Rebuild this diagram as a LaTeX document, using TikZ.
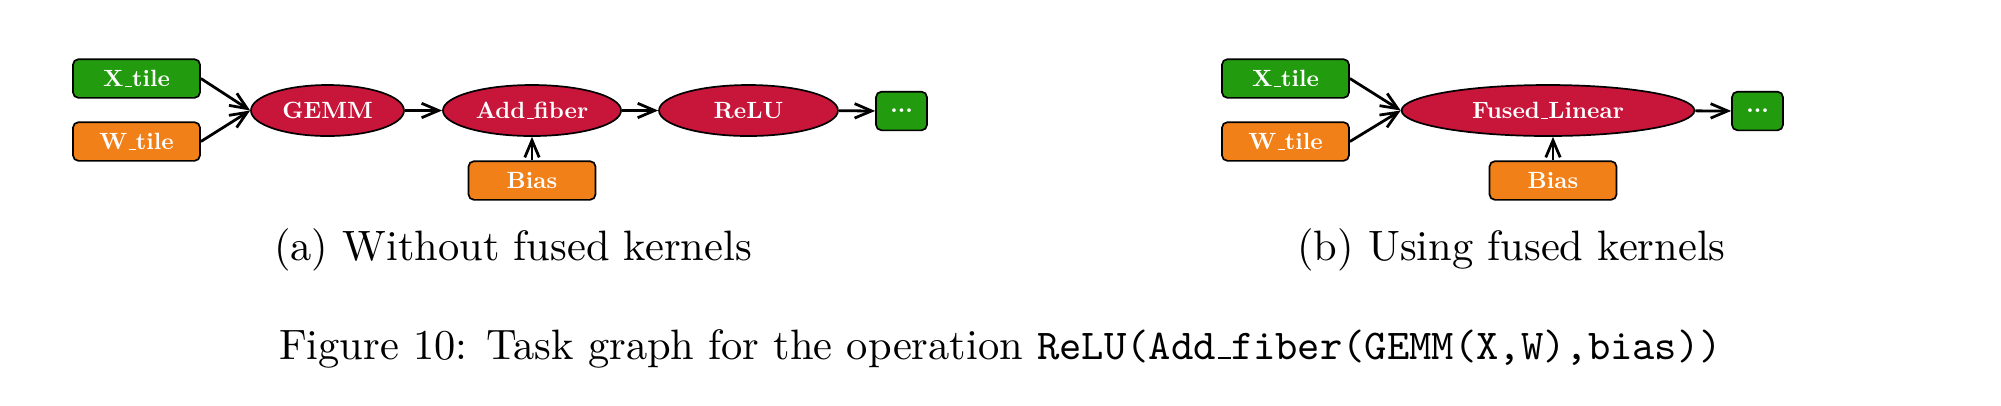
\documentclass[tikz,border=0pt]{standalone}
\usepackage{graphicx}
\usetikzlibrary{arrows.meta,shapes.geometric}
\definecolor{tgreen}{RGB}{35,155,15}
\definecolor{torange}{RGB}{242,128,24}
\definecolor{tred}{RGB}{200,21,58}
\newcommand{\us}{\leavevmode\kern.06em\vbox{\hrule width.3em}}
\newcommand{\nt}[1]{\scalebox{0.553}{\bfseries #1}}
\tikzset{
  nodefont/.style={font=\fontsize{10}{12}\selectfont, text=white},
  tilebox/.style={nodefont, draw=black, rounded corners=1.3pt, minimum width=29.9pt, minimum height=9.1pt, inner sep=0pt},
  greenbox/.style={tilebox, fill=tgreen},
  orangebox/.style={tilebox, fill=torange},
  dotbox/.style={tilebox, fill=tgreen, minimum width=12pt},
  opnode/.style={nodefont, ellipse, draw=black, fill=tred, minimum height=12pt, inner sep=0pt},
  flow/.style={line width=0.65pt, -{Straight Barb[length=4pt,width=3.4pt]}},
  captext/.style={font=\fontsize{10}{12}\selectfont, anchor=base}
}
\begin{document}
\begin{tikzpicture}[x=0.235294pt, y=-0.235294pt]
\useasboundingbox (0,0) rectangle (2001,405);
% (a)
\node[greenbox] (xa) at (136.5,78.5) {\nt{X\us tile}};
\node[orangebox] (wa) at (136.5,141.5) {\nt{W\us tile}};
\node[opnode, minimum width=36pt] (gemm) at (327.5,110.5) {\nt{GEMM}};
\node[opnode, minimum width=41.9pt] (add) at (532,110.5) {\nt{Add\us fiber}};
\node[orangebox] (ba) at (532,180.5) {\nt{Bias}};
\node[opnode, minimum width=42.1pt] (relu) at (748.5,110.5) {\nt{ReLU}};
\node[dotbox] (da) at (901.5,111) {\nt{...}};
\draw[flow] (xa.east) -- (gemm.west);
\draw[flow] (wa.east) -- (gemm.west);
\draw[flow] (gemm) -- (add);
\draw[flow] (ba) -- (add);
\draw[flow] (add) -- (relu);
\draw[flow] (relu) -- (da);
% (b)
\node[greenbox] (xb) at (1285.5,78.5) {\nt{X\us tile}};
\node[orangebox] (wb) at (1285.5,141.5) {\nt{W\us tile}};
\node[opnode, minimum width=68.9pt] (fused) at (1548,110.5) {\nt{Fused\us Linear}};
\node[orangebox] (bb) at (1553,180.5) {\nt{Bias}};
\node[dotbox] (db) at (1757.5,111) {\nt{...}};
\draw[flow] (xb.east) -- (fused.west);
\draw[flow] (wb.east) -- (fused.west);
\draw[flow] (bb) -- (bb |- fused.south);
\draw[flow] (fused) -- (db);
% captions
\node[captext] (capa) at (513,260) {(a) Without fused kernels};
\node[captext] (capb) at (1511.5,260) {(b) Using fused kernels};
\node[captext] (fig) at (1000.5,359) {Figure 10: Task graph for the operation \texttt{ReLU(Add\us fiber(GEMM(X,W),bias))}};
\end{tikzpicture}
\end{document}
